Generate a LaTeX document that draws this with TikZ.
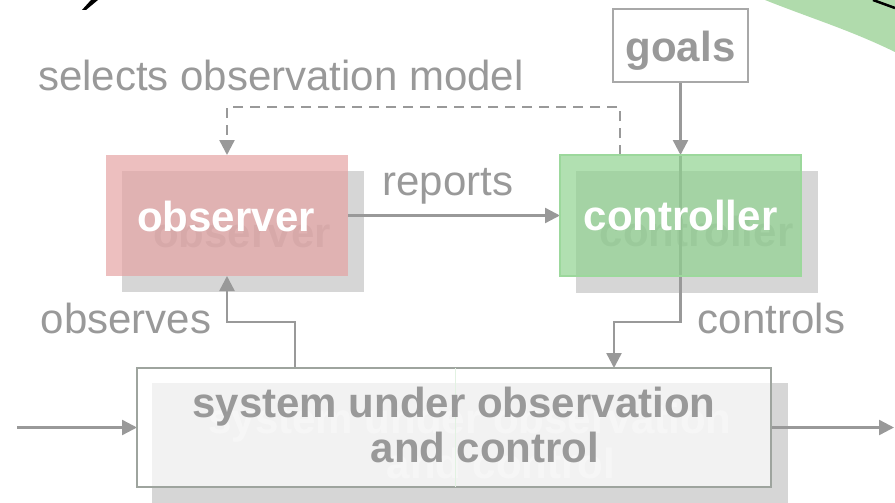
\documentclass[tikz,border=0pt]{standalone}
\usepackage{fontspec}
\setmainfont{Liberation Sans}
\usetikzlibrary{arrows.meta}
\definecolor{lg}{RGB}{153,153,153}
\definecolor{shad}{RGB}{214,214,214}
\definecolor{pinkf}{RGB}{229,164,164}
\definecolor{greenf}{RGB}{144,211,144}
\definecolor{greenb}{RGB}{156,216,156}
\definecolor{boxb}{RGB}{158,164,158}
\definecolor{blobg}{RGB}{176,219,172}
\definecolor{ghostd}{RGB}{184,184,184}
\definecolor{ghostl}{RGB}{228,228,228}
\definecolor{faintg}{RGB}{226,242,226}
\pgfdeclarelayer{shadowl}
\pgfdeclarelayer{connl}
\pgfsetlayers{shadowl,connl,main}
\begin{document}
\begin{tikzpicture}[x=1pt,y=-1pt,
  every node/.style={inner sep=0pt,outer sep=0pt},
  fnt/.style={font=\fontsize{42}{46}\selectfont},
  bfnt/.style={font=\fontsize{42}{46}\selectfont\bfseries},
  lbl/.style={fnt,text=lg,anchor=base},
  shadowbox/.style={fill=shad,draw=none},
  conn/.style={draw=lg,line width=2.4pt},
  arr/.style={conn,-{Triangle[length=15pt,width=15pt]}},
  dashconn/.style={arr,dash pattern=on 10pt off 7pt},
]
\useasboundingbox (0,0) rectangle (895,503);
\clip (0,0) rectangle (895,503);

% decorations at top corners
\fill[black] (91,0) -- (98,0) -- (86,10) -- (82,10) -- cycle;
\fill[blobg] (765,0) .. controls (810,18) and (850,30) .. (895,52) -- (895,0) -- cycle;
\draw[black,line width=2.5pt] (873,0) -- (895,8);

% shadows
\begin{pgfonlayer}{shadowl}
\node[shadowbox,minimum width=242pt,minimum height=121pt] (obsS) at (243,231.5) {};
\node[shadowbox,minimum width=242pt,minimum height=122pt] (ctrlS) at (697,232) {};
\node[shadowbox,minimum width=636pt,minimum height=140pt] (sysS) at (470,453) {};
\node[bfnt,text=ghostd,anchor=base] (obsG) at (242,247) {observer};
\node[bfnt,text=ghostd,anchor=base] (ctrlG) at (696.5,246) {controller};
\node[bfnt,text=ghostl,anchor=base] (sysG1) at (470,433) {system under observation};
\node[bfnt,text=ghostl,anchor=base] (sysG2) at (501,478) {and control};
\end{pgfonlayer}

% boxes
\node[fill=pinkf,fill opacity=0.7,minimum width=242pt,minimum height=121pt] (obs) at (227,215.5) {};
\node[fill=greenf,fill opacity=0.7,draw=greenb,line width=2pt,minimum width=241pt,minimum height=121pt] (ctrl) at (680.5,215.5) {};
\node[fill=white,fill opacity=0.7,draw=boxb,line width=2pt,minimum width=634pt,minimum height=119pt] (sys) at (454,427.5) {};
\node[fill=white,draw=lg!85,line width=2.5pt,minimum width=135pt,minimum height=73pt] (goals) at (680.5,45.5) {};
\draw[faintg,line width=1pt] (sys.north -| 455,0) -- (sys.south -| 455,0);

% box texts
\node[bfnt,text=white,anchor=base] (obsT) at (226,231) {observer};
\node[bfnt,text=white,anchor=base] (ctrlT) at (680.5,230) {controller};
\node[bfnt,text=lg,anchor=base] (goalsT) at (680.5,62) {goals};
\node[bfnt,text=lg,anchor=base] (sysT1) at (454,417) {system under observation};
\node[bfnt,text=lg,anchor=base] (sysT2) at (485,462) {and control};

% labels
\node[lbl,anchor=base west] (tsel) at (38,91) {selects observation model};
\node[lbl] (trep) at (448,195) {reports};
\node[lbl] (tobs) at (126,333) {observes};
\node[lbl] (tctl) at (771.5,333) {controls};

% connector corner points
\coordinate (sel) at (620,107);
\coordinate (ob) at (295,322);
\coordinate (cb) at (614,322);
\coordinate (in) at (17,427.5);
\coordinate (out) at (894,427.5);

\begin{pgfonlayer}{connl}
\draw[arr] (goals.south) -- (ctrl.north);
\draw[arr] (ctrl.north) -- (ctrl.south) |- (cb) -- (cb |- sys.north);
\draw[arr] (obs.east) -- (ctrl.west);
\draw[dashconn] (sel |- ctrl.north) -- (sel) -| (obs.north);
\draw[arr] (ob |- sys.north) -- (ob) -| (obs.south);
\draw[arr] (in) -- (sys.west);
\draw[arr] (sys.east) -- (out);
\end{pgfonlayer}
\end{tikzpicture}
\end{document}
